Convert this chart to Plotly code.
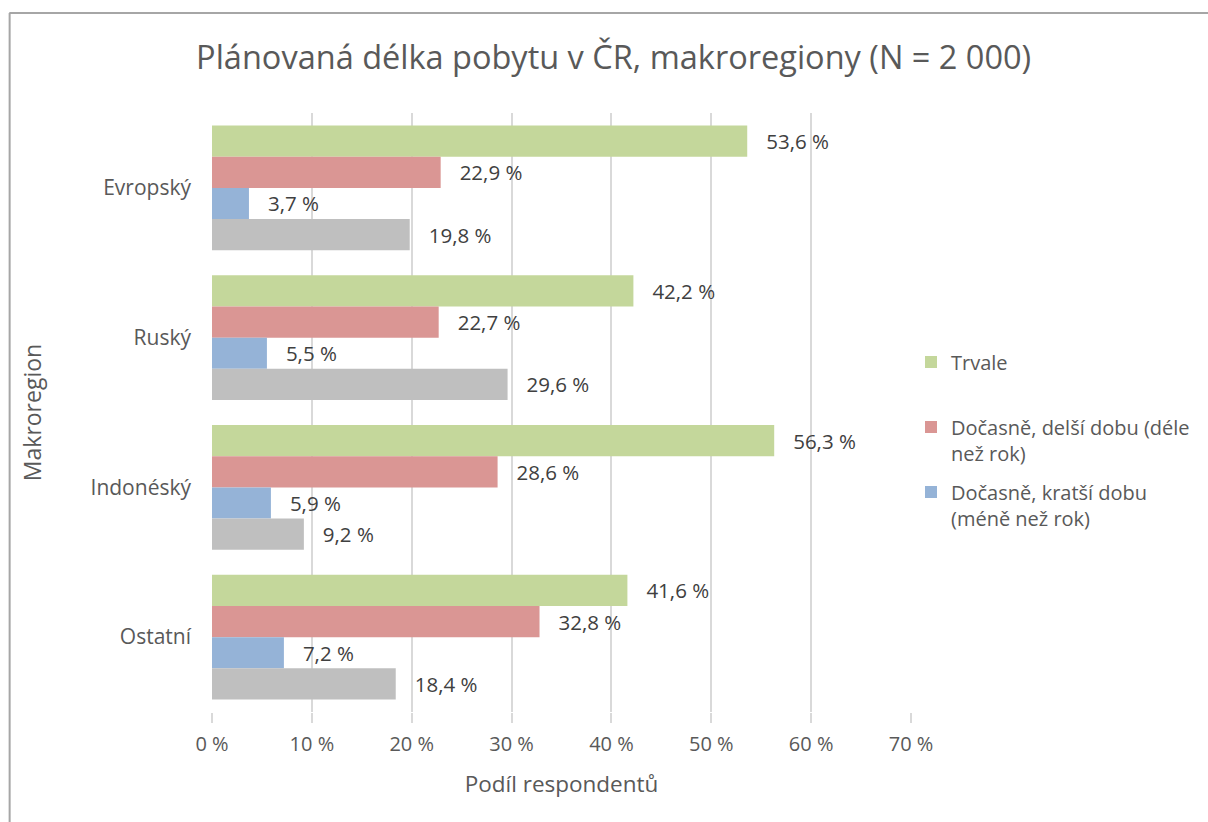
import plotly.graph_objects as go

# Planned length of stay, by macroregion (share of respondents, %)
regions = ["Evropský", "Ruský", "Indonéský", "Ostatní"]
series_names = [
    "Trvale<br>\u00a0",
    "Dočasně, delší dobu (déle<br>než rok)",
    "Dočasně, kratší dobu<br>(méně než rok)",
    "Neví",
]
trvale = [53.6, 42.2, 56.3, 41.6]
delsi = [22.9, 22.7, 28.6, 32.8]
kratsi = [3.7, 5.5, 5.9, 7.2]
nevi = [19.8, 29.6, 9.2, 18.4]
series_values = [trvale, delsi, kratsi, nevi]
series_colors = ["#c4d79b", "#da9694", "#95b3d7", "#bfbfbf"]
series_in_legend = [True, True, True, False]

tick_values = [0, 10, 20, 30, 40, 50, 60, 70]
tick_labels = ["0 %", "10 %", "20 %", "30 %", "40 %", "50 %", "60 %", "70 %"]

FONT = "Open Sans, sans-serif"
TEXT = "#595959"

fig = go.Figure()
for i, (name, vals, color, show) in enumerate(zip(series_names, series_values, series_colors, series_in_legend)):
    fig.add_trace(go.Bar(
        y=regions,
        x=vals,
        name=name,
        legendgroup=f"g{i}",
        orientation="h",
        marker=dict(color=color, line=dict(width=0)),
        text=["   " + f"{v:.1f}".replace(".", ",") + " %" for v in vals],
        textposition="outside",
        textfont=dict(family=FONT, size=20.5, color="#404040"),
        cliponaxis=False,
        showlegend=show,
        hoverinfo="skip",
    ))

fig.update_layout(
    width=1208,
    height=822,
    barmode="group",
    bargap=0.167,
    bargroupgap=0,
    paper_bgcolor="white",
    plot_bgcolor="white",
    margin=dict(l=212, r=297, t=113, b=110),
    font=dict(family=FONT, color=TEXT),
    title=dict(
        text="Plánovaná délka pobytu v ČR, makroregiony (N = 2 000)",
        font=dict(family=FONT, size=32.5, color=TEXT),
        x=0.508, xanchor="center", y=0.93, yanchor="middle",
    ),
    xaxis=dict(
        range=[0, 70],
        tickvals=tick_values,
        ticktext=tick_labels,
        tickfont=dict(family=FONT, size=20, color=TEXT),
        showgrid=True,
        gridcolor="#d9d9d9",
        gridwidth=1.5,
        zeroline=False,
        showline=False,
        ticks="outside",
        ticklen=10,
        tickcolor="#d9d9d9",
        tickwidth=1.5,
        ticklabelstandoff=4,
        title=dict(text="Podíl respondentů", font=dict(family=FONT, size=22.5, color=TEXT), standoff=20),
    ),
    yaxis=dict(
        categoryorder="array",
        categoryarray=regions,
        autorange="reversed",
        tickfont=dict(family=FONT, size=21, color=TEXT),
        showgrid=False,
        zeroline=False,
        showline=False,
        ticks="",
        ticklabelstandoff=20,
        title=dict(text="Makroregion", font=dict(family=FONT, size=23, color=TEXT), standoff=42),
    ),
    legend=dict(
        x=1.0, xanchor="left",
        y=0.617, yanchor="top",
        font=dict(family=FONT, size=20, color=TEXT),
        valign="top",
        tracegroupgap=10,
        itemwidth=30,
        borderwidth=0,
        bgcolor="rgba(0,0,0,0)",
    ),
    shapes=[
        dict(type="line", xref="paper", yref="paper", x0=-0.29, x1=1.6, y0=1.167, y1=1.167,
             line=dict(color="#a6a6a6", width=2)),
        dict(type="line", xref="paper", yref="paper", x0=-0.2895, x1=-0.2895, y0=1.167, y1=-0.2,
             line=dict(color="#a6a6a6", width=2)),
    ],
)

fig.write_html("out.html")
